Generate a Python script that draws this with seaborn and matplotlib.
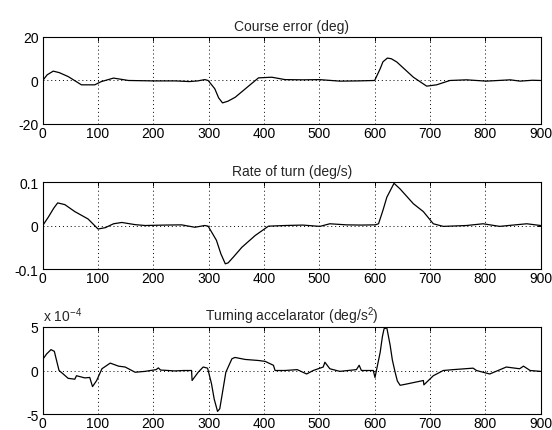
import numpy as np
import pandas as pd
import matplotlib
matplotlib.use("Agg")
import matplotlib.pyplot as plt
import seaborn as sns

## Data (time in s)
course_t = [0, 8, 19, 30, 46, 70, 94, 106, 128, 155, 200, 240, 265, 280, 293, 299, 311, 318, 325,
            335, 348, 372, 390, 414, 438, 470, 500, 537, 570, 600, 610, 615, 623, 630, 640, 670, 694,
            712, 736, 766, 802, 845, 863, 885, 900]
course_err = [0, 2.6, 4.3, 3.6, 1.8, -2.0, -2.0, -0.5, 1.1, 0.0, -0.2, -0.2, -0.5, -0.2, 0.4, 0.0, -3.8, -8.0, -10.3,
              -9.5, -7.7, -2.6, 1.2, 1.5, 0.4, 0.3, 0.4, -0.3, -0.2, 0.0, 5.4, 8.6, 10.3, 10.0, 8.5, 1.5, -2.6,
              -2.0, 0.0, 0.3, -0.3, 0.3, -0.3, 0.1, 0.0]

rate_t = [0, 10, 20, 27, 40, 58, 82, 100, 113, 128, 143, 167, 185, 220, 251, 275, 293, 299, 314, 322, 330,
          335, 345, 360, 384, 408, 438, 470, 501, 519, 549, 575, 601, 607, 615, 622, 635, 646, 670,
          688, 706, 724, 766, 796, 826, 850, 875, 900]
rate_turn = [0, 0.019, 0.040, 0.052, 0.048, 0.032, 0.015, -0.008, -0.005, 0.004, 0.007, 0.002, 0.0, 0.001, 0.0015, -0.004, 0.0, -0.0015, -0.034, -0.065, -0.088,
             -0.086, -0.072, -0.050, -0.023, -0.0015, 0.0, 0.001, -0.002, 0.004, 0.0015, 0.001, 0.0015, 0.004, 0.035, 0.065, 0.097, 0.084, 0.050,
             0.032, 0.004, -0.002, 0.0, 0.004, -0.002, 0.001, 0.004, 0.0]

# turning acceleration in units of 1e-4 deg/s^2
acc_t = [0, 7, 15, 21, 25, 29.5, 37, 46, 58, 61, 76, 85, 90, 97.5, 107, 122, 137, 149, 167,
         185, 205, 209, 213, 227, 238, 255, 269, 270, 281, 290, 298, 305, 310, 316, 320, 325, 331, 342,
         347.5, 366, 390, 402, 417, 420, 438, 460, 477, 489, 507, 510, 519, 537, 567, 572,
         576, 597.5, 600.6, 610, 614, 617, 622, 628, 632, 637, 641, 646, 658, 688, 689, 706, 724, 742,
         778, 784, 808, 838, 862, 869, 881, 900]
acc_e4 = [1.27, 1.9, 2.4, 2.2, 1.15, 0.0, -0.4, -0.9, -1.0, -0.6, -0.85, -0.8, -1.85, -1.15, 0.2, 0.85, 0.5, 0.4, -0.2,
          -0.1, 0.1, 0.3, 0.05, 0.0, -0.05, 0.0, 0.0, -1.15, -0.2, 0.4, 0.27, -1.5, -3.3, -4.7, -4.4, -2.5, -0.2, 1.35,
          1.5, 1.27, 1.15, 1.05, 0.6, 0.0, 0.0, 0.1, -0.4, 0.0, 0.4, 0.95, 0.2, -0.1, 0.1, 0.6,
          0.0, 0.0, -0.8, 2.1, 3.9, 4.8, 4.9, 2.9, 1.2, -0.2, -1.2, -1.7, -1.55, -1.15, -1.65, -0.6, 0.0, 0.1,
          0.27, 0.0, -0.4, 0.4, 0.2, 0.5, 0.0, -0.1]

panels = [
    ("Course error (deg)", course_t, course_err, [-20, 0, 20], ["-20", "0", "20"]),
    ("Rate of turn (deg/s)", rate_t, rate_turn, [-0.1, 0, 0.1], ["-0.1", "0", "0.1"]),
    ("Turning accelarator (deg/s$^2$)", acc_t, acc_e4, [-5, 0, 5], ["-5", "0", "5"]),
]
xticks = list(range(0, 1000, 100))

sns.set_style("white")
plt.rcParams["font.family"] = ["Liberation Sans", "DejaVu Sans"]
plt.rcParams["mathtext.fontset"] = "custom"
plt.rcParams["mathtext.rm"] = "Liberation Sans"

fig = plt.figure(figsize=(5.52, 4.31), dpi=100)
fig.patch.set_facecolor("white")

bottoms = [0.710, 0.3735, 0.0371]
for (title, t, v, yt, ylab), b in zip(panels, bottoms):
    ax = fig.add_axes([0.0774, b, 0.902, 0.2019])
    df = pd.DataFrame({"t": t, "v": v})
    sns.lineplot(data=df, x="t", y="v", ax=ax, color="black", linewidth=0.9)
    ax.set_xlim(0, 900)
    ax.set_ylim(yt[0], yt[-1])
    ax.set_xticks(xticks)
    ax.set_xticklabels([str(x) for x in xticks])
    ax.set_yticks(yt)
    ax.set_yticklabels(ylab)
    ax.set_xlabel("")
    ax.set_ylabel("")
    # MATLAB-like dotted grid
    for x in xticks[1:-1]:
        ax.axvline(x, color="black", linestyle=(0, (1, 3)), linewidth=0.7)
    ax.axhline(0, color="black", linestyle=(0, (1, 3)), linewidth=0.7)
    ax.tick_params(direction="in", length=3, width=0.7, top=True, right=True,
                   labelsize=10, pad=3, colors="black")
    ax.tick_params(axis="x", pad=1.5)
    for s in ax.spines.values():
        s.set_linewidth(0.8)
        s.set_color("black")
    ax.set_title(title, fontsize=10, pad=5)

fig.text(0.0774, 0.0371 + 0.2019 + 0.006, "x 10$^{-4}$", fontsize=10,
         ha="left", va="bottom")

fig.savefig("out.png", dpi=100, facecolor="white")
